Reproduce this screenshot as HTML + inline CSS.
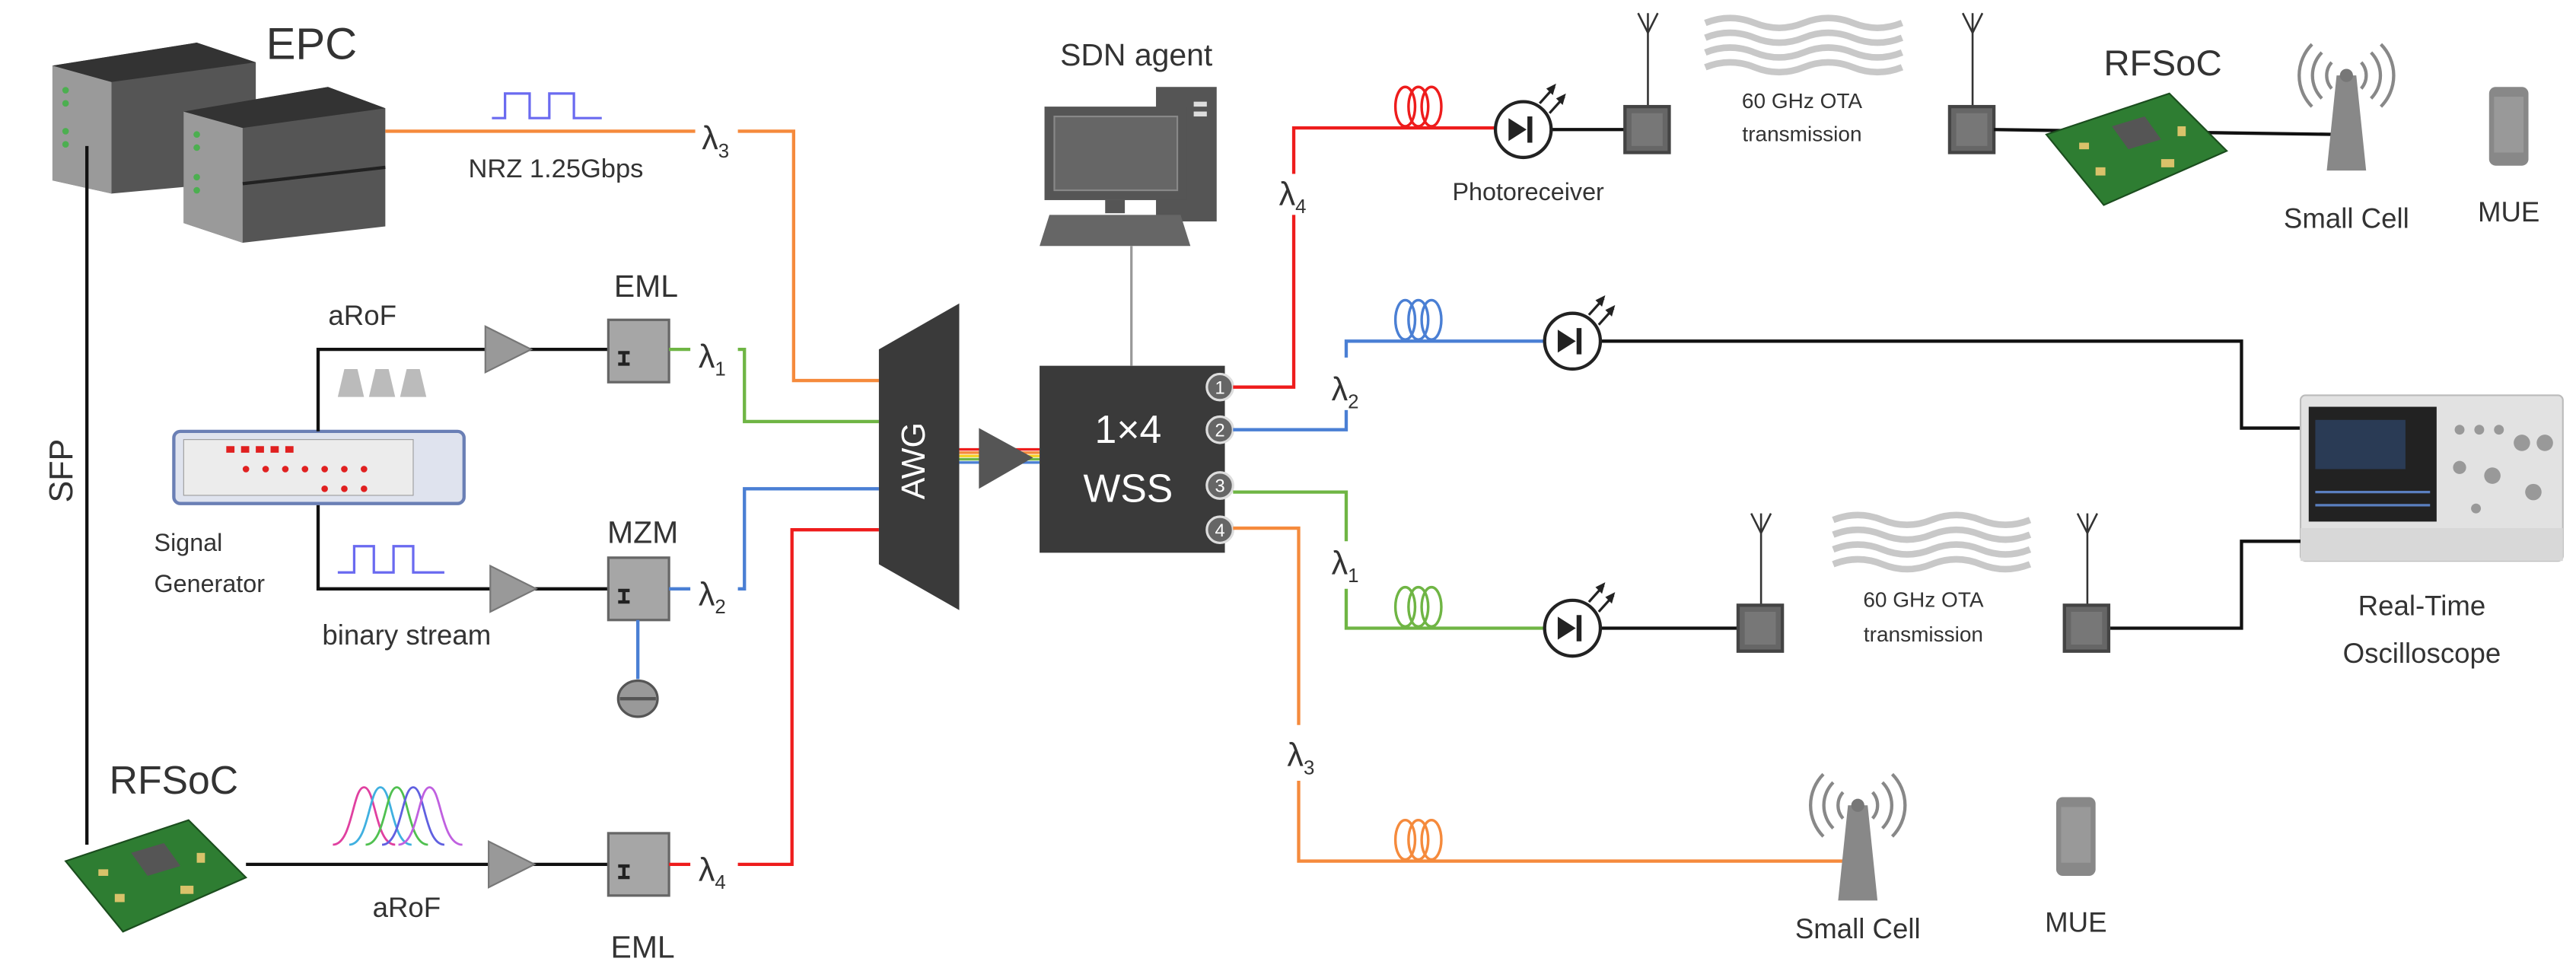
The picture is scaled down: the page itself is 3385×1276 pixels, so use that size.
<!DOCTYPE html>
<html><head><meta charset="utf-8"><style>
html,body{margin:0;padding:0;background:#fff;}
svg{display:block;}
text{font-family:"Liberation Sans",sans-serif;fill:#333;}
</style></head><body>
<svg width="3385" height="1276" viewBox="0 0 1571 592" preserveAspectRatio="none" xmlns="http://www.w3.org/2000/svg">
<defs>
 <g id="pd">
  <circle cx="0" cy="0" r="17" fill="#fff" stroke="#222" stroke-width="2"/>
  <polygon points="-9,-7 -9,7 2,0" fill="#222"/>
  <line x1="4" y1="-8" x2="4" y2="8" stroke="#222" stroke-width="3"/>
  <line x1="10" y1="-16" x2="19" y2="-26" stroke="#222" stroke-width="1.5"/>
  <polygon points="20,-28 14,-25 18,-21" fill="#222"/>
  <line x1="16" y1="-10" x2="25" y2="-20" stroke="#222" stroke-width="1.5"/>
  <polygon points="26,-22 20,-19 24,-15" fill="#222"/>
 </g>
 <g id="ant">
  <rect x="0" y="0" width="27" height="28" fill="#666" stroke="#444" stroke-width="2"/>
  <rect x="4" y="4" width="19" height="20" fill="#777"/>
 </g>
 <g id="waves" fill="none" stroke="#c8c8c8" stroke-width="4">
  <path d="M0,4 q15,-6 30,0 t30,0 t30,0 t30,0"/>
  <path d="M0,13 q15,-6 30,0 t30,0 t30,0 t30,0"/>
  <path d="M0,22 q15,-6 30,0 t30,0 t30,0 t30,0"/>
  <path d="M0,31 q15,-6 30,0 t30,0 t30,0 t30,0"/>
 </g>
 <g id="amp"><polygon points="0,-14 0,14 28,0" fill="#999" stroke="#777" stroke-width="1"/></g>
 <g id="mod">
  <rect x="0" y="0" width="37" height="38" fill="#a6a6a6" stroke="#666" stroke-width="1.5"/>
  <path d="M6,27 h7 M9.5,27 v-7 M6,20 h7" stroke="#222" stroke-width="2"/>
 </g>
 <g id="cell">
  <polygon points="-6,0 6,0 12,58 -12,58" fill="#888"/>
  <circle cx="0" cy="0" r="4" fill="#777"/>
  <path d="M-9,-8 a12,12 0 0,0 0,16 M9,-8 a12,12 0 0,1 0,16 M-15,-14 a20,20 0 0,0 0,28 M15,-14 a20,20 0 0,1 0,28 M-21,-19 a27,27 0 0,0 0,38 M21,-19 a27,27 0 0,1 0,38" fill="none" stroke="#888" stroke-width="2"/>
 </g>
 <g id="phone">
  <rect x="0" y="0" width="24" height="48" rx="4" fill="#888"/>
  <rect x="3" y="6" width="18" height="34" fill="#999"/>
 </g>
 <g id="board">
  <polygon points="0,25 75,0 110,35 35,68" fill="#2e7d32" stroke="#1b4d1e" stroke-width="1"/>
  <polygon points="40,20 60,14 70,28 50,34" fill="#555"/>
  <g fill="#d9c26a"><rect x="20" y="30" width="6" height="4"/><rect x="70" y="40" width="8" height="5"/><rect x="30" y="45" width="6" height="5"/><rect x="80" y="20" width="5" height="6"/></g>
 </g>
</defs>

<!-- EPC servers -->
<g>
 <polygon points="32,40 120,26 156,38 156,110 68,118 32,110" fill="#555"/>
 <polygon points="32,40 68,50 68,118 32,110" fill="#9a9a9a"/>
 <polygon points="32,40 120,26 156,38 68,50" fill="#333"/>
 <polygon points="112,68 200,53 235,66 235,138 148,148 112,136" fill="#555"/>
 <polygon points="112,68 148,78 148,148 112,136" fill="#9a9a9a"/>
 <polygon points="112,68 200,53 235,66 148,78" fill="#333"/>
 <line x1="148" y1="112" x2="235" y2="102" stroke="#222" stroke-width="2"/>
 <g fill="#4caf50"><circle cx="40" cy="55" r="2"/><circle cx="40" cy="63" r="2"/><circle cx="40" cy="80" r="2"/><circle cx="40" cy="88" r="2"/><circle cx="120" cy="82" r="2"/><circle cx="120" cy="90" r="2"/><circle cx="120" cy="108" r="2"/><circle cx="120" cy="116" r="2"/></g>
</g>
<text x="190" y="36" font-size="27" text-anchor="middle">EPC</text>

<!-- NRZ pulse -->
<path d="M300,72 h8 v-15 h15 v15 h12 v-15 h15 v15 h17" fill="none" stroke="#6a6af0" stroke-width="1.5"/>
<text x="339" y="108" font-size="16" text-anchor="middle">NRZ 1.25Gbps</text>

<!-- orange λ3 -->
<path d="M235,80 H424 M450,80 H484 V232 H536" fill="none" stroke="#f58a3c" stroke-width="2"/>
<text x="428" y="91" font-size="20">λ<tspan font-size="12" dy="5">3</tspan></text>

<!-- SFP -->
<line x1="53" y1="89" x2="53" y2="515" stroke="#111" stroke-width="2"/>
<text x="0" y="0" font-size="20" text-anchor="middle" transform="translate(44,287) rotate(-90)">SFP</text>

<!-- Signal generator -->
<rect x="106" y="263" width="177" height="44" rx="4" fill="#dfe3ee" stroke="#6a7fb5" stroke-width="2"/>
<rect x="112" y="268" width="140" height="34" fill="#ececec" stroke="#999" stroke-width="0.5"/>
<g fill="#e02020"><rect x="138" y="272" width="5" height="4"/><rect x="147" y="272" width="5" height="4"/><rect x="156" y="272" width="5" height="4"/><rect x="165" y="272" width="5" height="4"/><rect x="174" y="272" width="5" height="4"/><circle cx="150" cy="286" r="2"/><circle cx="162" cy="286" r="2"/><circle cx="174" cy="286" r="2"/><circle cx="186" cy="286" r="2"/><circle cx="198" cy="286" r="2"/><circle cx="210" cy="286" r="2"/><circle cx="222" cy="286" r="2"/><circle cx="198" cy="298" r="2"/><circle cx="210" cy="298" r="2"/><circle cx="222" cy="298" r="2"/></g>
<text x="94" y="336" font-size="15">Signal</text>
<text x="94" y="361" font-size="15">Generator</text>

<!-- upper aRoF -->
<path d="M194,263 V213 H296 M323,213 H371" fill="none" stroke="#111" stroke-width="2"/>
<use href="#amp" x="296" y="213"/>
<use href="#mod" x="371" y="195"/>
<text x="221" y="198" font-size="17" text-anchor="middle">aRoF</text>
<text x="394" y="181" font-size="19" text-anchor="middle">EML</text>
<g fill="#bbb"><polygon points="206,242 210,225 218,225 222,242"/><polygon points="225,242 229,225 237,225 241,242"/><polygon points="244,242 248,225 256,225 260,242"/></g>
<path d="M408,213 H421 M450,213 H454 V257 H536" fill="none" stroke="#6fb544" stroke-width="2"/>
<text x="426" y="224" font-size="20">λ<tspan font-size="12" dy="5">1</tspan></text>

<!-- lower binary -->
<path d="M194,308 V359 H299 M325,359 H371" fill="none" stroke="#111" stroke-width="2"/>
<use href="#amp" x="299" y="359"/>
<use href="#mod" x="371" y="340"/>
<path d="M206,349 h10 v-16 h12 v16 h12 v-16 h12 v16 h19" fill="none" stroke="#6a6af0" stroke-width="1.5"/>
<text x="392" y="331" font-size="19" text-anchor="middle">MZM</text>
<text x="248" y="393" font-size="17" text-anchor="middle">binary stream</text>
<path d="M408,359 H421 M450,359 H454 V298 H536" fill="none" stroke="#4a7fd4" stroke-width="2"/>
<text x="426" y="369" font-size="20">λ<tspan font-size="12" dy="5">2</tspan></text>
<line x1="389" y1="378" x2="389" y2="414" stroke="#4a7fd4" stroke-width="2"/>
<ellipse cx="389" cy="426" rx="12" ry="11" fill="#999" stroke="#555" stroke-width="1.5"/>
<line x1="378" y1="426" x2="400" y2="426" stroke="#555" stroke-width="2"/>

<!-- RFSoC left -->
<text x="106" y="484" font-size="24" text-anchor="middle">RFSoC</text>
<use href="#board" x="40" y="500"/>
<g fill="none" stroke-width="1.3">
 <path d="M203,515 C215,515 215,480 222,480 C229,480 229,515 241,515" stroke="#e040a0"/>
 <path d="M213,515 C225,515 225,480 232,480 C239,480 239,515 251,515" stroke="#40b0e0"/>
 <path d="M223,515 C235,515 235,480 242,480 C249,480 249,515 261,515" stroke="#50c050"/>
 <path d="M233,515 C245,515 245,480 252,480 C259,480 259,515 271,515" stroke="#6060e0"/>
 <path d="M243,515 C255,515 255,480 262,480 C269,480 269,515 282,515" stroke="#c060e0"/>
</g>
<path d="M150,527 H298 M324,527 H371" fill="none" stroke="#111" stroke-width="2"/>
<use href="#amp" x="298" y="527"/>
<use href="#mod" x="371" y="508"/>
<text x="248" y="559" font-size="17" text-anchor="middle">aRoF</text>
<text x="392" y="584" font-size="19" text-anchor="middle">EML</text>
<path d="M408,527 H421 M450,527 H483 V323 H536" fill="none" stroke="#ee1c1c" stroke-width="2"/>
<text x="426" y="537" font-size="20">λ<tspan font-size="12" dy="5">4</tspan></text>

<!-- AWG -->
<polygon points="536,213 585,185 585,372 536,344" fill="#3a3a3a"/>
<text x="0" y="0" font-size="20" fill="#fff" text-anchor="middle" transform="translate(564,281) rotate(-90)" style="fill:#fff">AWG</text>
<g stroke-width="1.6">
 <line x1="585" y1="274" x2="634" y2="274" stroke="#ee1c1c"/>
 <line x1="585" y1="276" x2="634" y2="276" stroke="#f58a3c"/>
 <line x1="585" y1="278" x2="634" y2="278" stroke="#f5d020"/>
 <line x1="585" y1="280" x2="634" y2="280" stroke="#6fb544"/>
 <line x1="585" y1="282" x2="634" y2="282" stroke="#4a7fd4"/>
</g>
<polygon points="597,261 597,298 630,279" fill="#555"/>

<!-- WSS -->
<rect x="634" y="223" width="113" height="114" fill="#3a3a3a"/>
<text x="688" y="270" font-size="24" text-anchor="middle" style="fill:#fff">1×4</text>
<text x="688" y="306" font-size="24" text-anchor="middle" style="fill:#fff">WSS</text>
<g font-size="10" text-anchor="middle">
 <circle cx="744" cy="236" r="8" fill="#666" stroke="#ddd" stroke-width="1.5"/><text x="744" y="240" style="fill:#fff" font-size="11">1</text>
 <circle cx="744" cy="262" r="8" fill="#666" stroke="#ddd" stroke-width="1.5"/><text x="744" y="266" style="fill:#fff" font-size="11">2</text>
 <circle cx="744" cy="296" r="8" fill="#666" stroke="#ddd" stroke-width="1.5"/><text x="744" y="300" style="fill:#fff" font-size="11">3</text>
 <circle cx="744" cy="323" r="8" fill="#666" stroke="#ddd" stroke-width="1.5"/><text x="744" y="327" style="fill:#fff" font-size="11">4</text>
</g>

<!-- SDN agent -->
<text x="693" y="40" font-size="19" text-anchor="middle">SDN agent</text>
<rect x="705" y="53" width="37" height="82" fill="#555"/>
<rect x="728" y="62" width="8" height="3" fill="#ddd"/><rect x="728" y="68" width="8" height="3" fill="#ddd"/>
<rect x="637" y="65" width="87" height="57" fill="#555"/>
<rect x="643" y="71" width="75" height="45" fill="#666" stroke="#888" stroke-width="1"/>
<rect x="674" y="122" width="12" height="8" fill="#555"/>
<polygon points="640,131 720,131 726,150 634,150" fill="#666"/>
<line x1="690" y1="150" x2="690" y2="223" stroke="#999" stroke-width="1.5"/>

<!-- Red branch -->
<path d="M752,236 H789 V131 M789,106 V78 H945" fill="none" stroke="#ee1c1c" stroke-width="2"/>
<text x="780" y="125" font-size="20">λ<tspan font-size="12" dy="5">4</tspan></text>
<g fill="none" stroke="#ee1c1c" stroke-width="1.6"><ellipse cx="857" cy="65" rx="6" ry="12"/><ellipse cx="865" cy="65" rx="6" ry="12"/><ellipse cx="873" cy="65" rx="6" ry="12"/></g>
<line x1="929" y1="79" x2="991" y2="79" stroke="#111" stroke-width="2"/>
<use href="#pd" x="929" y="79"/>
<text x="932" y="122" font-size="15" text-anchor="middle">Photoreceiver</text>
<line x1="1005" y1="8" x2="1005" y2="65" stroke="#333" stroke-width="1.2"/>
<path d="M999,8 L1005,20 L1011,8" fill="none" stroke="#333" stroke-width="1.2"/>
<use href="#ant" x="991" y="65"/>
<use href="#waves" x="1040" y="10" transform="translate(0,0)"/>
<text x="1099" y="66" font-size="13" text-anchor="middle">60 GHz OTA</text>
<text x="1099" y="86" font-size="13" text-anchor="middle">transmission</text>
<line x1="1203" y1="8" x2="1203" y2="65" stroke="#333" stroke-width="1.2"/>
<path d="M1197,8 L1203,20 L1209,8" fill="none" stroke="#333" stroke-width="1.2"/>
<use href="#ant" x="1189" y="65"/>
<line x1="1216" y1="79" x2="1428" y2="82" stroke="#111" stroke-width="2"/>
<use href="#board" x="1248" y="57"/>
<text x="1319" y="46" font-size="22" text-anchor="middle">RFSoC</text>
<use href="#cell" x="1431" y="46"/>
<text x="1431" y="139" font-size="17" text-anchor="middle">Small Cell</text>
<use href="#phone" x="1518" y="53"/>
<text x="1530" y="135" font-size="17" text-anchor="middle">MUE</text>

<!-- Blue branch -->
<path d="M752,262 H821 V250 M821,218 V208 H945" fill="none" stroke="#4a7fd4" stroke-width="2"/>
<text x="812" y="244" font-size="20">λ<tspan font-size="12" dy="5">2</tspan></text>
<g fill="none" stroke="#4a7fd4" stroke-width="1.6"><ellipse cx="857" cy="195" rx="6" ry="12"/><ellipse cx="865" cy="195" rx="6" ry="12"/><ellipse cx="873" cy="195" rx="6" ry="12"/></g>
<path d="M959,208 H1367 V261 H1403" fill="none" stroke="#111" stroke-width="2"/>
<use href="#pd" x="959" y="208"/>

<!-- Oscilloscope -->
<rect x="1403" y="241" width="160" height="101" rx="3" fill="#e2e2e2" stroke="#bbb" stroke-width="1"/>
<rect x="1408" y="248" width="78" height="70" fill="#222"/>
<rect x="1412" y="256" width="55" height="30" fill="#2a3b55"/>
<path d="M1412,300 h70 M1412,308 h70" stroke="#5a7fc0" stroke-width="1.5"/>
<g fill="#999"><circle cx="1500" cy="262" r="3"/><circle cx="1512" cy="262" r="3"/><circle cx="1524" cy="262" r="3"/><circle cx="1538" cy="270" r="5"/><circle cx="1552" cy="270" r="5"/><circle cx="1500" cy="285" r="4"/><circle cx="1520" cy="290" r="5"/><circle cx="1545" cy="300" r="5"/><circle cx="1510" cy="310" r="3"/></g>
<rect x="1403" y="322" width="160" height="20" fill="#d8d8d8"/>
<text x="1477" y="375" font-size="17" text-anchor="middle">Real-Time</text>
<text x="1477" y="404" font-size="17" text-anchor="middle">Oscilloscope</text>

<!-- Green branch -->
<path d="M752,300 H821 V330 M821,359 V383 H945" fill="none" stroke="#6fb544" stroke-width="2"/>
<text x="812" y="350" font-size="20">λ<tspan font-size="12" dy="5">1</tspan></text>
<g fill="none" stroke="#6fb544" stroke-width="1.6"><ellipse cx="857" cy="370" rx="6" ry="12"/><ellipse cx="865" cy="370" rx="6" ry="12"/><ellipse cx="873" cy="370" rx="6" ry="12"/></g>
<line x1="959" y1="383" x2="1060" y2="383" stroke="#111" stroke-width="2"/>
<use href="#pd" x="959" y="383"/>
<line x1="1074" y1="313" x2="1074" y2="369" stroke="#333" stroke-width="1.2"/>
<path d="M1068,313 L1074,325 L1080,313" fill="none" stroke="#333" stroke-width="1.2"/>
<use href="#ant" x="1060" y="369"/>
<use href="#waves" x="1118" y="313"/>
<text x="1173" y="370" font-size="13" text-anchor="middle">60 GHz OTA</text>
<text x="1173" y="391" font-size="13" text-anchor="middle">transmission</text>
<line x1="1273" y1="313" x2="1273" y2="369" stroke="#333" stroke-width="1.2"/>
<path d="M1267,313 L1273,325 L1279,313" fill="none" stroke="#333" stroke-width="1.2"/>
<use href="#ant" x="1259" y="369"/>
<path d="M1287,383 H1367 V330 H1403" fill="none" stroke="#111" stroke-width="2"/>

<!-- Orange branch -->
<path d="M752,322 H792 V442 M792,476 V525 H1130" fill="none" stroke="#f58a3c" stroke-width="2"/>
<text x="785" y="467" font-size="20">λ<tspan font-size="12" dy="5">3</tspan></text>
<g fill="none" stroke="#f58a3c" stroke-width="1.6"><ellipse cx="857" cy="512" rx="6" ry="12"/><ellipse cx="865" cy="512" rx="6" ry="12"/><ellipse cx="873" cy="512" rx="6" ry="12"/></g>
<use href="#cell" x="1133" y="491"/>
<text x="1133" y="572" font-size="17" text-anchor="middle">Small Cell</text>
<use href="#phone" x="1254" y="486"/>
<text x="1266" y="568" font-size="17" text-anchor="middle">MUE</text>
</svg>
</body></html>
